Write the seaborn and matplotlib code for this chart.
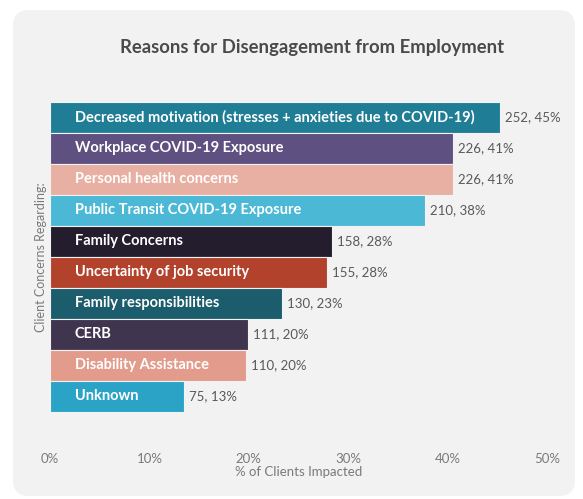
import numpy as np
import pandas as pd
import matplotlib
matplotlib.use("Agg")
import matplotlib.pyplot as plt
from matplotlib.patches import FancyBboxPatch
import seaborn as sns

# Survey results: number of clients citing each concern
categories = [
    "Decreased motivation (stresses + anxieties due to COVID-19)",
    "Workplace COVID-19 Exposure",
    "Personal health concerns",
    "Public Transit COVID-19 Exposure",
    "Family Concerns",
    "Uncertainty of job security",
    "Family responsibilities",
    "CERB",
    "Disability Assistance",
    "Unknown",
]
counts = [252, 226, 226, 210, 158, 155, 130, 111, 110, 75]
total_clients = 557
x_ticks = [0, 10, 20, 30, 40, 50]

bar_colors = [
    "#1f7e95", "#5e5080", "#e8afa3", "#4bb8d6", "#231d2d",
    "#b3422d", "#1b5d6c", "#3f354f", "#e39b8c", "#2ba3c7",
]

df = pd.DataFrame({"category": categories, "count": counts})
df["pct"] = df["count"] / total_clients * 100

sns.set_theme(style="white")
plt.rcParams["font.family"] = ["Lato", "DejaVu Sans"]

W, H = 583, 499
fig = plt.figure(figsize=(W / 100, H / 100), dpi=100)
fig.patch.set_facecolor("white")

# Rounded light-grey card behind the chart, in pixel units
bg = fig.add_axes([0, 0, 1, 1])
bg.set_xlim(0, W)
bg.set_ylim(H, 0)
bg.axis("off")
bg.add_patch(FancyBboxPatch((13, 10), 562, 486,
                            boxstyle="round,pad=0,rounding_size=16",
                            facecolor="#f2f2f2", edgecolor="none"))

ax_left, ax_right = 50, 547
ax_top, ax_bottom = 101.7, 411.7
ax = fig.add_axes([ax_left / W, 1 - ax_bottom / H,
                   (ax_right - ax_left) / W, (ax_bottom - ax_top) / H])
ax.set_facecolor("none")

sns.barplot(data=df, x="pct", y="category", hue="category",
            palette=bar_colors, saturation=1, legend=False, orient="h",
            width=1.0, edgecolor="#f2f2f2", linewidth=0.8, ax=ax)

ax.set_xlim(0, 50)
ax.set_ylim(len(categories) - 0.5, -0.5)

for i, (cat, cnt, pct) in enumerate(zip(df["category"], df["count"], df["pct"])):
    ax.text(2.5, i, cat, color="white", fontsize=10.5, fontweight="bold",
            va="center", ha="left")
    ax.text(pct + 0.5, i, f"{cnt}, {round(pct)}%", color="#595959",
            fontsize=9.5, va="center", ha="left")

ax.set_xticks(x_ticks)
ax.set_xticklabels([f"{t}%" for t in x_ticks], color="#7a7a7a", fontsize=9.5)
ax.tick_params(axis="x", length=0, pad=30)
ax.set_yticks([])
ax.set_ylabel("Client Concerns Regarding:", color="#7a7a7a", fontsize=9)
ax.yaxis.label.set_va("center")
ax.yaxis.set_label_coords((41 - ax_left) / (ax_right - ax_left), 0.5)
ax.set_xlabel("% of Clients Impacted", color="#7a7a7a", fontsize=9.5)
ax.xaxis.label.set_va("center")
ax.xaxis.set_label_coords(0.5, -(472 - ax_bottom) / (ax_bottom - ax_top))
for s in ax.spines.values():
    s.set_visible(False)

fig.text(312 / W, 1 - 48 / H, "Reasons for Disengagement from Employment",
         ha="center", va="center", fontsize=13.3, fontweight="bold",
         color="#4a4a4a")

fig.savefig("out.png", dpi=100, facecolor="white")
